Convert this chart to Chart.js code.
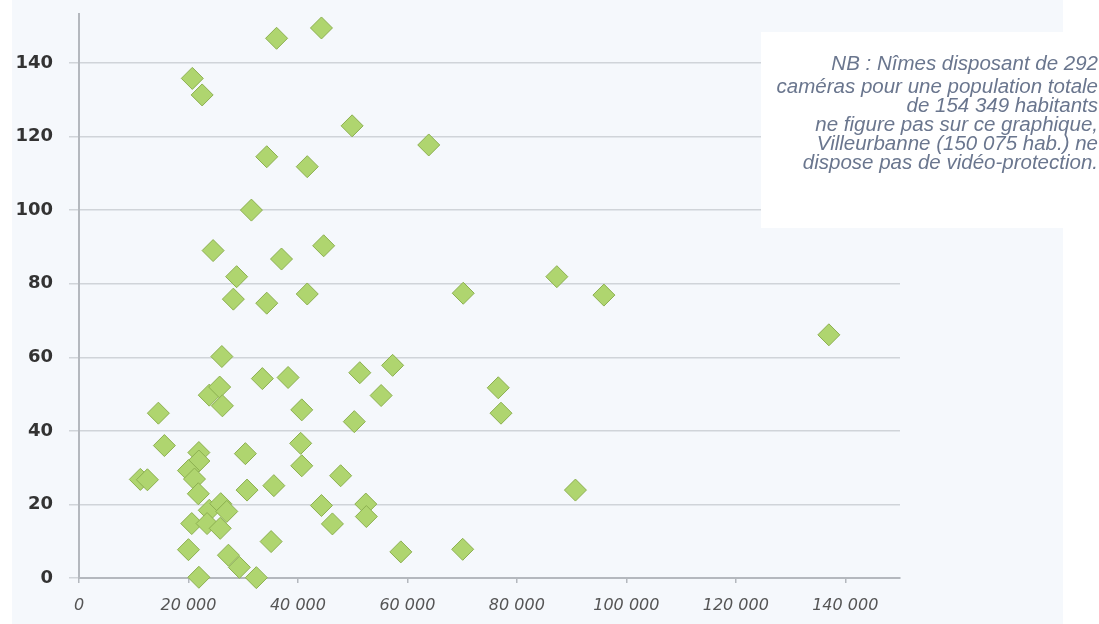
<!DOCTYPE html>
<html>
<head>
<meta charset="utf-8">
<script src="https://cdn.jsdelivr.net/npm/chart.js@4"></script>
<style>
  html, body { margin: 0; padding: 0; background: #ffffff; }
  #wrap { width: 1099px; height: 624px; position: relative; }
</style>
</head>
<body>
<div id="wrap"><canvas id="scatter"></canvas></div>
<script>
// Population (habitants) par ville
const populations = [44300, 36100, 20700, 22500, 49900, 63900, 34300, 41700, 31500, 24500,
    44700, 37000, 28800, 28200, 34300, 41700, 70200, 87300, 95900, 137000,
    26100, 33500, 38200, 51300, 57300, 23800, 25700, 26200, 55200, 40700,
    14500, 50300, 15600, 40500, 21900, 21900, 30400, 40700, 20000, 21100,
    11200, 12500, 47800, 21800, 30700, 35600, 23800, 25900, 27000, 44300,
    52400, 52500, 20600, 23400, 25800, 46300, 35100, 20000, 58800, 70100,
    27300, 29300, 21900, 32400, 76600, 77100, 90700];

// Nombre de caméras par ville
const cameras = [149.5, 146.7, 135.8, 131.3, 122.9, 117.7, 114.5, 111.8, 100, 89,
    90.3, 86.7, 81.9, 75.8, 74.7, 77.2, 77.4, 81.9, 76.9, 66.1,
    60.2, 54.2, 54.5, 55.8, 57.8, 49.7, 51.9, 46.8, 49.6, 45.7,
    44.8, 42.5, 36, 36.6, 34.1, 31.8, 33.8, 30.5, 29.2, 26.9,
    26.8, 26.7, 27.8, 22.9, 23.9, 25.1, 18.4, 20.2, 18.1, 19.7,
    20.1, 16.7, 14.8, 14.8, 13.5, 14.7, 9.9, 7.7, 7.1, 7.8,
    6.2, 2.9, 0.2, 0.1, 51.7, 44.8, 23.9];

const xTicks = [0, 20000, 40000, 60000, 80000, 100000, 120000, 140000];
const yTicks = [0, 20, 40, 60, 80, 100, 120, 140];

const noteLines = [
    'NB : Nîmes disposant de 292',
    'caméras pour une population totale',
    'de 154 349 habitants',
    'ne figure pas sur ce graphique,',
    'Villeurbanne (150 075 hab.) ne',
    'dispose pas de vidéo-protection.'
];

// Fond + encadré de la note
const backdrop = {
    id: 'backdrop',
    beforeDraw(chart) {
        const ctx = chart.ctx;
        ctx.save();
        ctx.fillStyle = '#ffffff';
        ctx.fillRect(0, 0, chart.width, chart.height);
        ctx.fillStyle = '#f5f8fc';
        ctx.fillRect(12, 0, 1051, chart.height);
        ctx.restore();
    },
    afterDraw(chart) {
        const ctx = chart.ctx;
        ctx.save();
        ctx.fillStyle = '#ffffff';
        ctx.fillRect(761, 32, 338, 196);
        ctx.fillStyle = '#6a768e';
        ctx.font = 'italic 20.5px "Liberation Sans", Arial, sans-serif';
        ctx.textAlign = 'right';
        ctx.textBaseline = 'alphabetic';
        let y = 70;
        noteLines.forEach((line, i) => {
            ctx.fillText(line, 1098, y);
            y += (i === 0 ? 23 : 19);
        });
        ctx.restore();
    }
};

const fmt = v => v === 0 ? '0' : String(v).replace(/\B(?=(\d{3})+(?!\d))/g, ' ');

const ctx = document.getElementById('scatter').getContext('2d');
new Chart(ctx, {
    type: 'scatter',
    data: {
        datasets: [{
            data: populations.map((p, i) => ({ x: p, y: cameras[i] })),
            pointStyle: 'rectRot',
            pointRadius: 11,
            pointHoverRadius: 11,
            backgroundColor: '#afd56f',
            borderColor: '#8cb050',
            borderWidth: 1,
            clip: false
        }]
    },
    options: {
        responsive: true,
        maintainAspectRatio: false,
        animation: false,
        layout: { padding: { top: 14, right: 199, left: 0, bottom: 0 } },
        plugins: {
            legend: { display: false },
            tooltip: { enabled: false }
        },
        scales: {
            x: {
                type: 'linear',
                min: 0,
                max: 150000,
                afterFit: s => { s.height = 46; s.paddingLeft = 0; s.paddingRight = 0; },
                afterBuildTicks: s => { s.ticks = xTicks.map(v => ({ value: v })); },
                border: { color: '#b4b8be', width: 2 },
                grid: {
                    drawOnChartArea: false,
                    drawTicks: true,
                    tickLength: 5,
                    color: '#b4b8be',
                    lineWidth: 1.5
                },
                ticks: {
                    padding: 13,
                    color: '#555555',
                    font: { family: '"DejaVu Sans"', size: 16, style: 'italic' },
                    callback: v => fmt(v)
                }
            },
            y: {
                type: 'linear',
                min: 0,
                max: 153.3,
                afterFit: s => { s.width = 79; s.paddingTop = 0; s.paddingBottom = 0; },
                afterBuildTicks: s => { s.ticks = yTicks.map(v => ({ value: v })); },
                border: { color: '#b4b8be', width: 2 },
                grid: {
                    color: '#d0d4d9',
                    lineWidth: 1.5,
                    tickLength: 10
                },
                ticks: {
                    padding: 16,
                    color: '#333333',
                    font: { family: '"DejaVu Sans"', size: 18, weight: 'bold' }
                }
            }
        }
    },
    plugins: [backdrop]
});
</script>
</body>
</html>
